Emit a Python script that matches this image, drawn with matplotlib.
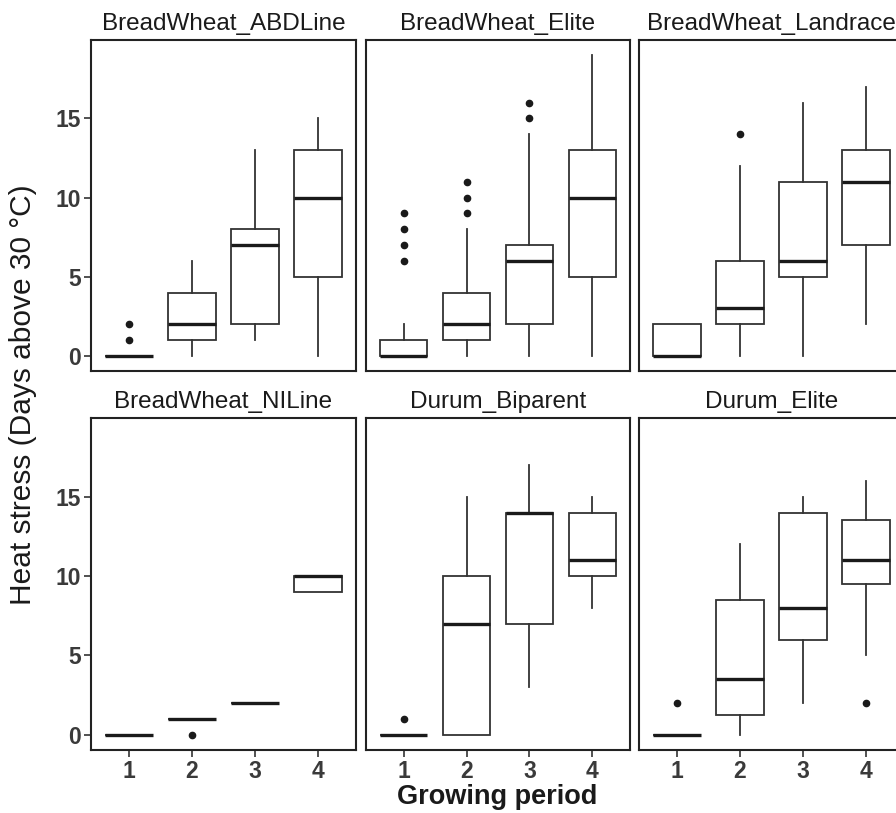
import matplotlib
matplotlib.use("Agg")
import matplotlib.pyplot as plt

plt.rcParams['font.family'] = ['Liberation Sans', 'DejaVu Sans']

# ---------------- data ----------------
periods = [1, 2, 3, 4]
panel_names = ["BreadWheat_ABDLine", "BreadWheat_Elite", "BreadWheat_Landrace",
               "BreadWheat_NILine", "Durum_Biparent", "Durum_Elite"]
y_ticks = [0, 5, 10, 15]

# five-number summaries per period: [whisker low, Q1, median, Q3, whisker high]
abdline_stats = [[0, 0, 0, 0, 0], [0, 1, 2, 4, 6], [1, 2, 7, 8, 13], [0, 5, 10, 13, 15]]
abdline_fliers = [[1, 2], [], [], []]

bw_elite_stats = [[0, 0, 0, 1, 2], [0, 1, 2, 4, 8], [0, 2, 6, 7, 14], [0, 5, 10, 13, 19]]
bw_elite_fliers = [[6, 7, 8, 9], [9, 10, 11], [15, 16], []]

landrace_stats = [[0, 0, 0, 2, 2], [0, 2, 3, 6, 12], [0, 5, 6, 11, 16], [2, 7, 11, 13, 17]]
landrace_fliers = [[], [14], [], []]

niline_stats = [[0, 0, 0, 0, 0], [1, 1, 1, 1, 1], [2, 2, 2, 2, 2], [9, 9, 10, 10, 10]]
niline_fliers = [[], [0], [], []]

biparent_stats = [[0, 0, 0, 0, 0], [0, 0, 7, 10, 15], [3, 7, 14, 14, 17], [8, 10, 11, 14, 15]]
biparent_fliers = [[1], [], [], []]

durum_elite_stats = [[0, 0, 0, 0, 0], [0, 1.25, 3.5, 8.5, 12], [2, 6, 8, 14, 15], [5, 9.5, 11, 13.5, 16]]
durum_elite_fliers = [[2], [], [], [2]]

all_stats = [abdline_stats, bw_elite_stats, landrace_stats,
             niline_stats, biparent_stats, durum_elite_stats]
all_fliers = [abdline_fliers, bw_elite_fliers, landrace_fliers,
              niline_fliers, biparent_fliers, durum_elite_fliers]

# ---------------- layout ----------------
W, H = 896, 813
fig = plt.figure(figsize=(W / 100, H / 100), dpi=100)

cols_px = [(91, 356), (366, 630), (639, 904)]
rows_px = [(40, 371), (418, 750)]

line_col = "#333333"
text_col = "#3a3a3a"

for i, name in enumerate(panel_names):
    r, c = divmod(i, 3)
    x0, x1 = cols_px[c]
    y0, y1 = rows_px[r]
    ax = fig.add_axes([x0 / W, 1 - y1 / H, (x1 - x0) / W, (y1 - y0) / H])

    bstats = []
    for p, s, f in zip(periods, all_stats[i], all_fliers[i]):
        bstats.append(dict(whislo=s[0], q1=s[1], med=s[2], q3=s[3], whishi=s[4],
                           fliers=f, label=str(p)))
    ax.bxp(bstats, positions=periods, widths=0.75, showcaps=False,
           patch_artist=True,
           boxprops=dict(facecolor="white", edgecolor=line_col, linewidth=1.3),
           whiskerprops=dict(color=line_col, linewidth=1.3),
           medianprops=dict(color="#1a1a1a", linewidth=2.4, solid_capstyle="butt"),
           flierprops=dict(marker="o", markerfacecolor="#1a1a1a",
                           markeredgecolor="#1a1a1a", markersize=4.5))

    ax.set_xlim(0.4, 4.6)
    ax.set_ylim(-0.95, 19.95)
    ax.set_xticks(periods)
    ax.set_yticks(y_ticks)
    for sp in ax.spines.values():
        sp.set_color("#222222")
        sp.set_linewidth(1.5)
    ax.tick_params(axis="both", length=5, width=1.2, color=line_col,
                   labelsize=16.5, labelcolor=text_col, pad=2)
    for lab in ax.get_xticklabels() + ax.get_yticklabels():
        lab.set_fontweight("bold")
    if c != 0:
        ax.tick_params(axis="y", left=False, labelleft=False)
    if r != 1:
        ax.tick_params(axis="x", bottom=False, labelbottom=False)
    ax.set_title(name, fontsize=17.5, color="#1a1a1a", pad=7)

fig.text(23 / W, 1 - 395 / H, "Heat stress (Days above 30 °C)", rotation=90,
         ha="center", va="center", fontsize=21.5, color="#1a1a1a")
fig.text(497 / W, 1 - 797 / H, "Growing period", ha="center", va="center",
         fontsize=19.5, fontweight="bold", color="#1a1a1a")

fig.savefig("out.png", dpi=100)
